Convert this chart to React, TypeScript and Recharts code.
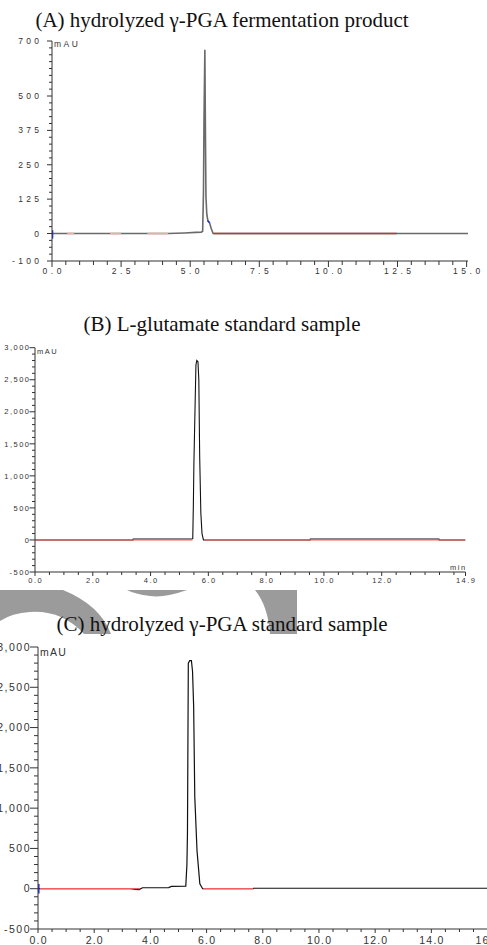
import { Line, LineChart, XAxis, YAxis } from "recharts"

// (A) hydrolyzed γ-PGA fermentation product
const timeA = [0, 0.5, 1.0, 2.0, 3.0, 4.2, 4.8, 5.2, 5.4, 5.45, 5.48, 5.5, 5.53, 5.55, 5.57, 5.6, 5.64, 5.7, 5.76, 5.83, 7.0, 10.0, 12.5, 15.05]
const mauA = [0, 0, 0, 0, 0, 0, 2, 4, 5, 8, 150, 420, 668, 376, 133, 70, 46, 39, 18, 0, 0, 0, 0, 0]
const redLightA = [[0.55, 0.8], [2.1, 2.5], [3.45, 4.2]]
const redDarkA = [[5.85, 12.47]]
const injectTimeA = [0.02, 0.02]
const injectMauA = [12, -18]
const tailTimeA = [5.63, 5.7]
const tailMauA = [47, 39]
const xTicksA = [0, 2.5, 5, 7.5, 10, 12.5, 15]
const yTicksA = [-100, 0, 125, 250, 375, 500, 700]

// (B) L-glutamate standard sample
const timeB = [0, 3.39, 3.4, 5.42, 5.46, 5.48, 5.5, 5.54, 5.57, 5.6, 5.64, 5.67, 5.7, 5.74, 5.78, 5.83, 9.52, 9.53, 13.98, 13.99, 14.9]
const mauB = [0, 0, 15, 15, 20, 520, 1200, 2080, 2730, 2800, 2780, 2500, 1300, 420, 100, 0, 0, 15, 15, 0, 0]
const redB = [[0, 5.45], [5.86, 14.9]]
const xTicksB = [0, 2, 4, 6, 8, 10, 12, 14.9]
const yTicksB = [-500, 0, 500, 1000, 1500, 2000, 2500, 3000]

// (C) hydrolyzed γ-PGA standard sample
const timeC = [0, 3.3, 3.45, 3.6, 3.72, 4.65, 4.75, 5.26, 5.3, 5.32, 5.35, 5.4, 5.46, 5.5, 5.54, 5.58, 5.66, 5.76, 5.86, 7.66, 7.67, 16.5]
const mauC = [0, 0, -8, -10, 12, 14, 28, 32, 300, 700, 2800, 2830, 2830, 2700, 2260, 1140, 470, 60, 0, 0, 6, 6]
const redC = [[0.07, 3.63], [5.88, 7.66]]
const injectTimeC = [0.03, 0.03]
const injectMauC = [60, -60]
const xTicksC = [0, 2, 4, 6, 8, 10, 12, 14, 16]
const yTicksC = [-500, 0, 500, 1000, 1500, 2000, 2500, 3000]

const AXIS = "#333"
const LABEL = "#333"
const SANS = "'Liberation Sans', Arial, sans-serif"
const SERIF = "'Liberation Serif', 'Times New Roman', serif"

const toRows = (ts: number[], vs: number[]) => ts.map((t, i) => ({ t, v: vs[i] }))
const segRows = (segs: number[][]) =>
  segs.flatMap(([a, b]) => [{ t: a, v: 0 }, { t: b, v: 0 }, { t: b, v: null }])

const withMinors = (majors: number[], lo: number, hi: number, step: number) => {
  const out = new Set<number>(majors)
  for (let k = Math.ceil(lo / step); k * step <= hi + 1e-9; k++) out.add(k * step)
  return Array.from(out).sort((a, b) => a - b)
}

type TickStyle = { size: number; spacing: number; major: number; minor: number; gap: number }

const yTick = (majors: number[], fmt: (v: number) => string, s: TickStyle) => (p: any) => {
  const major = majors.includes(p.payload.value)
  const len = major ? s.major : s.minor
  return (
    <g>
      <line x1={p.x - len} x2={p.x} y1={p.y} y2={p.y} stroke={AXIS} strokeWidth={1} />
      {major && (
        <text x={p.x - s.major - s.gap + s.spacing} y={p.y} dy="0.36em" textAnchor="end"
          fontFamily={SANS} fontSize={s.size} letterSpacing={s.spacing} fill={LABEL}>
          {fmt(p.payload.value)}
        </text>
      )}
    </g>
  )
}

const xTick = (majors: number[], s: TickStyle) => (p: any) => {
  const major = majors.includes(p.payload.value)
  const len = major ? s.major : s.minor
  return (
    <g>
      <line x1={p.x} x2={p.x} y1={p.y} y2={p.y + len} stroke={AXIS} strokeWidth={1} />
      {major && (
        <text x={p.x + s.spacing / 2} y={p.y + s.gap} textAnchor="middle"
          fontFamily={SANS} fontSize={s.size} letterSpacing={s.spacing} fill={LABEL}>
          {p.payload.value.toFixed(1)}
        </text>
      )}
    </g>
  )
}

type Series = { rows: any[]; color: string; width: number }

interface PanelProps {
  top: number
  width: number
  height: number
  axisX: number
  plotTop: number
  plotBottom: number
  plotRight: number
  xDomain: [number, number]
  yDomain: [number, number]
  xMajors: number[]
  xStep: number
  yMajors: number[]
  yStep: number
  yFmt: (v: number) => string
  yStyle: TickStyle
  xStyle: TickStyle
  series: Series[]
}

const Panel = (p: PanelProps) => {
  const xAxisH = 14
  return (
    <div style={{ position: "absolute", left: 0, top: p.top }}>
      <LineChart
        width={p.width}
        height={p.height}
        margin={{
          top: p.plotTop - p.top,
          right: p.width - p.plotRight,
          bottom: p.top + p.height - p.plotBottom - xAxisH,
          left: 0,
        }}
      >
        <XAxis
          type="number"
          dataKey="t"
          domain={p.xDomain}
          ticks={withMinors(p.xMajors, p.xDomain[0], p.xDomain[1], p.xStep)}
          interval={0}
          height={xAxisH}
          tickSize={0}
          tickMargin={0}
          tickLine={false}
          axisLine={{ stroke: AXIS, strokeWidth: 1 }}
          tick={xTick(p.xMajors, p.xStyle)}
          allowDataOverflow
        />
        <YAxis
          type="number"
          dataKey="v"
          domain={p.yDomain}
          ticks={withMinors(p.yMajors, p.yDomain[0], p.yDomain[1], p.yStep)}
          interval={0}
          width={p.axisX}
          tickSize={0}
          tickMargin={0}
          tickLine={false}
          axisLine={{ stroke: AXIS, strokeWidth: 1 }}
          tick={yTick(p.yMajors, p.yFmt, p.yStyle)}
          allowDataOverflow
        />
        {p.series.map((s, i) => (
          <Line
            key={i}
            data={s.rows}
            dataKey="v"
            type="linear"
            stroke={s.color}
            strokeWidth={s.width}
            dot={false}
            activeDot={false}
            isAnimationActive={false}
          />
        ))}
      </LineChart>
    </div>
  )
}

const plain = (v: number) => String(v)
const comma = (v: number) => v.toLocaleString("en-US")

export default function App() {
  return (
    <div style={{ position: "absolute", left: 0, top: 0, width: 487, height: 945, overflow: "hidden", background: "#fff" }}>
      <svg width={487} height={945} style={{ position: "absolute", left: 0, top: 0 }}>
        <g fill="#9b9b9b">
          <path d="M0,590 L63,590 Q100,605 111,634 L84,634 Q62,610 30,612 Q12,613 0,621 Z" />
          <path d="M127,590 L187,590 Q165,598 150,596 Q135,594 127,590 Z" />
          <path d="M255,590 L297,590 L297,634 L270,634 Q268,606 255,590 Z" />
        </g>
        <g fontFamily={SERIF} fontSize={21} fill="#111" textAnchor="middle">
          <text x={222} y={27}>(A) hydrolyzed γ-PGA fermentation product</text>
          <text x={222} y={331}>(B) L-glutamate standard sample</text>
          <text x={222} y={631}>(C) hydrolyzed γ-PGA standard sample</text>
        </g>
        <g fontFamily={SANS} fill={LABEL}>
          <text x={54} y={47} fontSize={8.5} letterSpacing={2.5}>mAU</text>
          <text x={37} y={354} fontSize={7.5} letterSpacing={1.5}>mAU</text>
          <text x={450} y={570} fontSize={7.5} letterSpacing={1.5}>min</text>
          <text x={40} y={656} fontSize={10.5} letterSpacing={1.2}>mAU</text>
        </g>
      </svg>

      <Panel
        top={0}
        width={487}
        height={290}
        axisX={52}
        plotTop={41}
        plotBottom={261}
        plotRight={468}
        xDomain={[0, 15.05]}
        yDomain={[-100, 700]}
        xMajors={xTicksA}
        xStep={0.5}
        yMajors={yTicksA}
        yStep={25}
        yFmt={plain}
        yStyle={{ size: 8.5, spacing: 3.3, major: 5, minor: 3, gap: 8 }}
        xStyle={{ size: 8.5, spacing: 3.5, major: 6, minor: 4, gap: 13 }}
        series={[
          { rows: toRows(timeA, mauA), color: "#6a6a6a", width: 1.6 },
          { rows: segRows(redLightA), color: "#f4a6a6", width: 1.6 },
          { rows: segRows(redDarkA), color: "#b23a3a", width: 1.4 },
          { rows: toRows(injectTimeA, injectMauA), color: "#2030e0", width: 1.5 },
          { rows: toRows(tailTimeA, tailMauA), color: "#2040d0", width: 1.6 },
        ]}
      />

      <Panel
        top={300}
        width={487}
        height={300}
        axisX={35}
        plotTop={347.7}
        plotBottom={572}
        plotRight={465.5}
        xDomain={[0, 14.9]}
        yDomain={[-500, 3000]}
        xMajors={xTicksB}
        xStep={0.5}
        yMajors={yTicksB}
        yStep={100}
        yFmt={comma}
        yStyle={{ size: 7.5, spacing: 1.5, major: 5.5, minor: 3, gap: 0.5 }}
        xStyle={{ size: 7.5, spacing: 1.5, major: 4, minor: 3, gap: 11 }}
        series={[
          { rows: toRows(timeB, mauB), color: "#111", width: 1.1 },
          { rows: segRows(redB), color: "#ff5a5a", width: 1.1 },
        ]}
      />

      <Panel
        top={632}
        width={510}
        height={313}
        axisX={38}
        plotTop={647}
        plotBottom={929}
        plotRight={501.6}
        xDomain={[0, 16.5]}
        yDomain={[-500, 3000]}
        xMajors={xTicksC}
        xStep={0.5}
        yMajors={yTicksC}
        yStep={100}
        yFmt={comma}
        yStyle={{ size: 10.5, spacing: 1.5, major: 8, minor: 4, gap: 0.5 }}
        xStyle={{ size: 10.5, spacing: 1.2, major: 4, minor: 3, gap: 15 }}
        series={[
          { rows: toRows(timeC, mauC), color: "#111", width: 1.2 },
          { rows: segRows(redC), color: "#f06060", width: 1.2 },
          { rows: toRows(injectTimeC, injectMauC), color: "#2030e0", width: 1.5 },
        ]}
      />
    </div>
  )
}
